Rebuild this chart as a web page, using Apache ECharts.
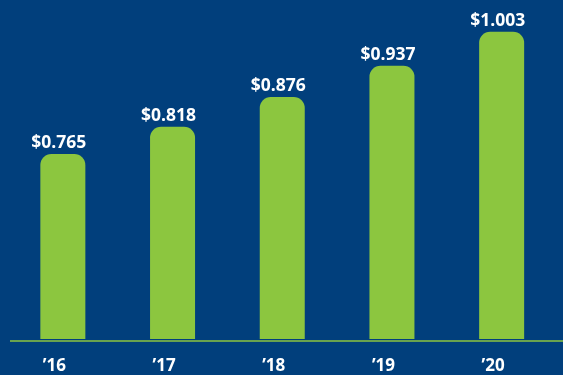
<!DOCTYPE html>
<html><head><meta charset="utf-8">
<script src="https://cdn.jsdelivr.net/npm/echarts@6/dist/echarts.min.js"></script>
<style>html,body{margin:0;padding:0;background:#013f7c;}#c{width:563px;height:375px;}</style>
</head><body><div id="c"></div>
<script>
const categories = ["\u201916", "\u201917", "\u201918", "\u201919", "\u201920"];
const values = [0.765, 0.818, 0.876, 0.937, 1.003];
const labels = ["$0.765", "$0.818", "$0.876", "$0.937", "$1.003"];

const chart = echarts.init(document.getElementById('c'));
chart.setOption({
  backgroundColor: '#013f7c',
  animation: false,
  grid: {left: 8, right: 6.5, top: 0, bottom: 34},
  graphic: [{type: 'line', shape: {x1: 10, y1: 341, x2: 563, y2: 341}, style: {stroke: '#8cc63f', lineWidth: 1.5}, z: 10}],
  xAxis: {
    type: 'category', data: categories,
    axisLine: {show: false},
    axisTick: {show: false},
    axisLabel: {color: '#ffffff', fontFamily: 'Open Sans', fontWeight: 'bold', fontSize: 17, margin: 19, padding: [0, 17, 0, 0]}
  },
  yAxis: {type: 'value', min: 0.405, max: 1.065, show: false, splitLine: {show: false}},
  series: [{
    type: 'bar', data: values, barWidth: 45,
    itemStyle: {color: '#8cc63f', borderRadius: [11, 11, 0, 0]},
    label: {show: true, position: 'top', distance: 2, offset: [-4, 0], color: '#ffffff', fontFamily: 'Open Sans', fontWeight: 'bold', fontSize: 17.5,
      formatter: p => labels[p.dataIndex]}
  }]
});
</script></body></html>
